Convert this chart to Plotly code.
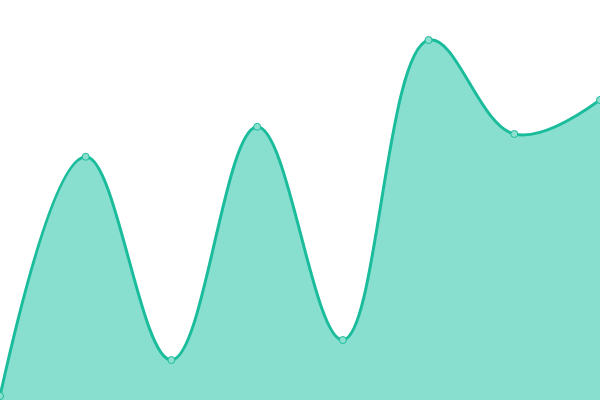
import plotly.graph_objects as go

# Data
labels = ["P1", "P2", "P3", "P4", "P5", "P6", "P7", "P8"]
values = [1, 60.8, 10, 68.3, 15, 90, 66.5, 75]

fig = go.Figure(go.Scatter(
    x=labels,
    y=values,
    mode="lines+markers",
    line=dict(color="#1abc9c", width=3, shape="spline", smoothing=1.1),
    fill="tozeroy",
    fillcolor="#89dfcf",
    marker=dict(size=7, color="#8de0cf", line=dict(color="#1abc9c", width=1)),
    hoverinfo="skip",
))

fig.update_layout(
    width=600,
    height=400,
    margin=dict(l=0, r=0, t=0, b=0),
    paper_bgcolor="white",
    plot_bgcolor="white",
    showlegend=False,
    xaxis=dict(visible=False, range=[0, 7]),
    yaxis=dict(visible=False, range=[0, 100]),
)

# drop the default page margin so the chart sits flush in the window
fig.write_html(
    "out.html",
    config={"displayModeBar": False},
    post_script="document.body.style.margin='0';",
)
